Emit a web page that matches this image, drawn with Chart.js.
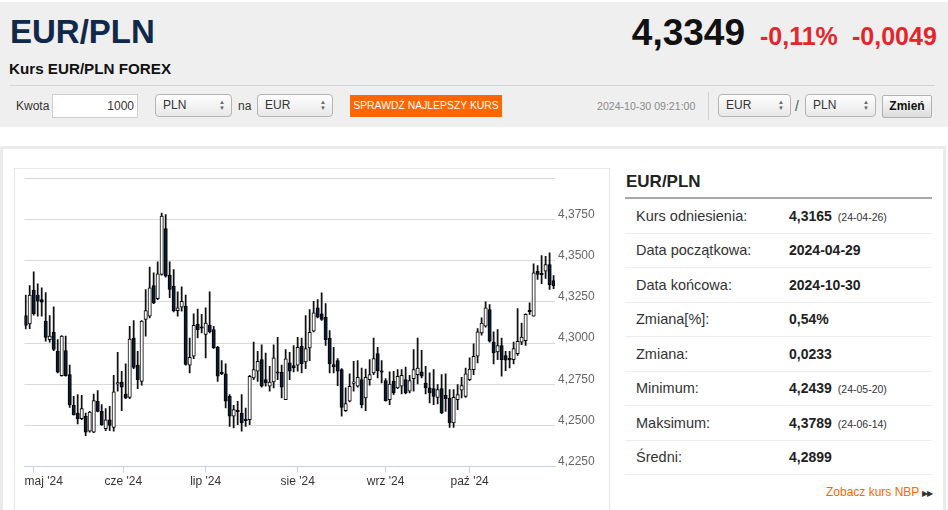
<!DOCTYPE html>
<html lang="pl">
<head>
<meta charset="utf-8">
<script src="https://cdn.jsdelivr.net/npm/chart.js@4.4.1/dist/chart.umd.min.js"></script>
<style>
  html,body{margin:0;padding:0;background:#fff;}
  body{width:948px;height:510px;position:relative;overflow:hidden;font-family:"Liberation Sans",Arial,sans-serif;color:#333;}
  .a{position:absolute;white-space:nowrap;}
  .hdr{position:absolute;left:0;top:2px;width:948px;height:125px;background:#efefef;}
  .sel{position:absolute;height:21px;border:1px solid #b4b4b4;border-radius:4px;background:linear-gradient(#fefefe,#e8e8e8);font-size:12px;line-height:21px;box-sizing:content-box;}
  .sel span.t{position:absolute;left:7px;top:0;}
  .sel span.ar{position:absolute;right:6px;top:4px;font-size:6px;line-height:6px;color:#666;}
  .rowl{position:absolute;left:636px;font-size:14.5px;line-height:20px;color:#333;white-space:nowrap;}
  .rowv{position:absolute;left:789px;font-size:14px;font-weight:bold;line-height:20px;color:#222;white-space:nowrap;}
  .rowv small{font-size:10.5px;font-weight:normal;margin-left:6px;color:#333;}
  .sep{position:absolute;left:625px;width:307px;height:1px;background:#ececec;}
</style>
</head>
<body>
<div class="hdr"></div>
<div class="a" style="left:10px;top:12.6px;font-size:33px;font-weight:bold;line-height:38px;color:#10284a;">EUR/PLN</div>
<div class="a" style="left:600px;top:13px;width:145px;text-align:right;font-size:37px;font-weight:bold;line-height:40px;color:#111;">4,3349</div>
<div class="a" style="left:760px;top:22px;font-size:25px;font-weight:bold;line-height:28px;color:#e3262b;">-0,11%</div>
<div class="a" style="left:852px;top:22px;font-size:25px;font-weight:bold;line-height:28px;color:#e3262b;">-0,0049</div>
<div class="a" style="left:9px;top:60px;font-size:15.2px;font-weight:bold;line-height:18px;color:#111;">Kurs EUR/PLN FOREX</div>
<div class="a" style="left:10px;top:85px;width:925px;height:1px;background:#d3d3d3;"></div>

<div class="a" style="left:16px;top:98px;font-size:12px;line-height:16px;color:#333;">Kwota</div>
<div class="a" style="left:52px;top:94px;width:84px;height:22px;border:1px solid #cfcfcf;background:#fff;font-size:12px;line-height:22px;text-align:right;"><span style="padding-right:3px;">1000</span></div>
<div class="sel" style="left:155px;top:94px;width:75px;"><span class="t">PLN</span><span class="ar">▲<br>▼</span></div>
<div class="a" style="left:238px;top:98px;font-size:12px;line-height:16px;color:#333;">na</div>
<div class="sel" style="left:257px;top:94px;width:74px;"><span class="t">EUR</span><span class="ar">▲<br>▼</span></div>
<div class="a" style="left:350px;top:95px;width:152px;height:22px;background:#ff6600;color:#fff;font-size:10.4px;line-height:22px;text-align:center;">SPRAWDŹ NAJLEPSZY KURS</div>
<div class="a" style="left:597px;top:99px;font-size:10.6px;line-height:14px;color:#8a8a8a;">2024-10-30 09:21:00</div>
<div class="a" style="left:708px;top:92px;width:1px;height:28px;background:#cfcfcf;"></div>
<div class="sel" style="left:718px;top:94px;width:71px;"><span class="t">EUR</span><span class="ar">▲<br>▼</span></div>
<div class="a" style="left:795px;top:97px;font-size:14px;line-height:18px;color:#555;">/</div>
<div class="sel" style="left:805px;top:94px;width:69px;"><span class="t">PLN</span><span class="ar">▲<br>▼</span></div>
<div class="a" style="left:882px;top:95px;width:48px;height:21px;border:1px solid #b0b0b0;border-radius:2px;background:linear-gradient(#fdfdfd,#dcdcdc);font-size:12px;font-weight:bold;line-height:21px;text-align:center;color:#111;">Zmień</div>

<div class="a" style="left:0px;top:146px;width:940px;height:380px;border:3px solid #ebebeb;border-bottom:none;"></div>
<div class="a" style="left:14px;top:168px;width:594px;height:360px;border:1px solid #e8e8e8;"></div>

<div class="a" style="left:626px;top:172px;font-size:17px;font-weight:bold;line-height:20px;color:#222;">EUR/PLN</div>
<div class="a" style="left:625px;top:197px;width:307px;height:2px;background:#a8a8a8;"></div>
<div id="panel"></div>
<div class="a" style="left:826px;top:484px;font-size:12px;line-height:16px;color:#ff6600;">Zobacz kurs NBP <span style="color:#333;font-size:8px;letter-spacing:-1px;">▶▶</span></div>

<div class="a" style="left:0px;top:160px;width:610px;height:340px;"><canvas id="c" width="610" height="340"></canvas></div>

<script>
// ---- Right panel data ----
const panelLabels = ["Kurs odniesienia:", "Data początkowa:", "Data końcowa:", "Zmiana[%]:", "Zmiana:", "Minimum:", "Maksimum:", "Średni:"];
const panelValues = ["4,3165", "2024-04-29", "2024-10-30", "0,54%", "0,0233", "4,2439", "4,3789", "4,2899"];
const panelDates  = ["(24-04-26)", "", "", "", "", "(24-05-20)", "(24-06-14)", ""];

// ---- Chart data (trading days 2024-04-29 .. 2024-10-30) ----
const dates = ["04-29","04-30",
"05-01","05-02","05-03","05-06","05-07","05-08","05-09","05-10","05-13","05-14","05-15","05-16","05-17","05-20","05-21","05-22","05-23","05-24","05-27","05-28","05-29","05-30","05-31",
"06-03","06-04","06-05","06-06","06-07","06-10","06-11","06-12","06-13","06-14","06-17","06-18","06-19","06-20","06-21","06-24","06-25","06-26","06-27","06-28",
"07-01","07-02","07-03","07-04","07-05","07-08","07-09","07-10","07-11","07-12","07-15","07-16","07-17","07-18","07-19","07-22","07-23","07-24","07-25","07-26","07-29","07-30","07-31",
"08-01","08-02","08-05","08-06","08-07","08-08","08-09","08-12","08-13","08-14","08-15","08-16","08-19","08-20","08-21","08-22","08-23","08-26","08-27","08-28","08-29","08-30",
"09-02","09-03","09-04","09-05","09-06","09-09","09-10","09-11","09-12","09-13","09-16","09-17","09-18","09-19","09-20","09-23","09-24","09-25","09-26","09-27","09-30",
"10-01","10-02","10-03","10-04","10-07","10-08","10-09","10-10","10-11","10-14","10-15","10-16","10-17","10-18","10-21","10-22","10-23","10-24","10-25","10-28","10-29","10-30"];

const openV = [4.3167,4.3116,4.3320,4.3291,4.3264,4.3133,4.3021,4.3066,4.2950,4.2803,
4.2954,4.2809,4.2623,4.2576,4.2541,4.2556,4.2465,4.2460,4.2647,4.2586,
4.2481,4.2535,4.2489,4.2752,4.2764,4.2691,4.2671,4.3031,4.2866,4.2768,
4.3143,4.3163,4.3349,4.3270,4.3416,4.3695,4.3412,4.3345,4.3197,4.3218,
4.3224,4.2866,4.2920,4.3116,4.3094,4.3052,4.3108,4.3082,4.2975,4.2823,
4.2813,4.2677,4.2556,4.2588,4.2576,4.2535,4.2535,4.2789,4.2829,4.2900,
4.2778,4.2738,4.2764,4.2821,4.2823,4.2657,4.2880,4.2864,4.2866,4.2981,
4.2886,4.2971,4.3072,4.3214,4.3178,4.3157,4.3031,4.2870,4.2894,4.2839,
4.2590,4.2647,4.2756,4.2738,4.2778,4.2667,4.2778,4.2819,4.2936,4.2827,
4.2772,4.2657,4.2768,4.2728,4.2738,4.2778,4.2708,4.2784,4.2809,4.2825,
4.2758,4.2728,4.2724,4.2671,4.2724,4.2683,4.2667,4.2515,4.2657,4.2714,
4.2677,4.2778,4.2839,4.2920,4.3062,4.3102,4.3204,4.3006,4.2946,4.2985,
4.2924,4.2902,4.2900,4.2936,4.3006,4.3014,4.3195,4.3163,4.3436,4.3418,
4.3436,4.3477,4.3380];
const highV = [4.3291,4.3349,4.3432,4.3359,4.3335,4.3307,4.3167,4.3220,4.3021,4.3046,
4.3042,4.2866,4.2677,4.2687,4.2683,4.2576,4.2586,4.2691,4.2712,4.2627,
4.2602,4.2617,4.2805,4.2944,4.2829,4.2874,4.3102,4.3137,4.2950,4.3137,
4.3325,4.3461,4.3426,4.3493,4.3789,4.3780,4.3493,4.3446,4.3311,4.3341,
4.3291,4.3031,4.3178,4.3207,4.3174,4.3214,4.3311,4.3102,4.2981,4.2894,
4.2874,4.2687,4.2623,4.2647,4.2687,4.2606,4.2805,4.3006,4.2950,4.2990,
4.2940,4.2859,4.2990,4.3035,4.2866,4.2961,4.2944,4.2985,4.3035,4.3031,
4.3167,4.3204,4.3254,4.3264,4.3305,4.3240,4.3076,4.2975,4.2906,4.2845,
4.2728,4.2813,4.2890,4.2894,4.2849,4.2843,4.2900,4.3031,4.2975,4.2894,
4.2784,4.2825,4.2829,4.2839,4.2839,4.2855,4.2805,4.2961,4.3031,4.2956,
4.2859,4.2819,4.2839,4.2748,4.2809,4.2813,4.2718,4.2718,4.2748,4.2793,
4.2849,4.2910,4.2995,4.3088,4.3153,4.3250,4.3234,4.3068,4.3082,4.3031,
4.2950,4.2950,4.3006,4.3210,4.3122,4.3178,4.3244,4.3481,4.3471,4.3531,
4.3527,4.3548,4.3410];
const lowV = [4.3086,4.3088,4.3169,4.3163,4.3163,4.3011,4.3006,4.2954,4.2819,4.2799,
4.2799,4.2610,4.2562,4.2509,4.2535,4.2439,4.2460,4.2456,4.2582,4.2501,
4.2469,4.2469,4.2465,4.2708,4.2590,4.2663,4.2663,4.2845,4.2724,4.2744,
4.3042,4.3153,4.3240,4.3264,4.3412,4.3400,4.3275,4.3189,4.3163,4.3193,
4.2866,4.2819,4.2906,4.3031,4.3062,4.2910,4.3062,4.2967,4.2768,4.2809,
4.2606,4.2495,4.2485,4.2505,4.2465,4.2495,4.2505,4.2778,4.2768,4.2732,
4.2738,4.2708,4.2728,4.2778,4.2667,4.2657,4.2778,4.2825,4.2829,4.2819,
4.2845,4.2894,4.3068,4.3153,4.3137,4.2986,4.2819,4.2819,4.2742,4.2556,
4.2586,4.2643,4.2708,4.2732,4.2606,4.2590,4.2744,4.2809,4.2789,4.2758,
4.2647,4.2627,4.2687,4.2724,4.2691,4.2691,4.2697,4.2708,4.2752,4.2789,
4.2691,4.2637,4.2627,4.2631,4.2572,4.2586,4.2489,4.2489,4.2596,4.2667,
4.2671,4.2772,4.2809,4.2880,4.3048,4.3096,4.3006,4.2874,4.2900,4.2799,
4.2833,4.2849,4.2874,4.2926,4.2990,4.2986,4.3174,4.3163,4.3386,4.3361,
4.3392,4.3325,4.3331];
const closeV = [4.3108,4.3291,4.3178,4.3254,4.3248,4.3035,4.3042,4.2961,4.2823,4.3042,
4.2803,4.2627,4.2566,4.2541,4.2602,4.2460,4.2582,4.2651,4.2586,4.2505,
4.2535,4.2501,4.2704,4.2754,4.2732,4.2667,4.3025,4.2853,4.2778,4.3133,
4.3197,4.3335,4.3244,4.3420,4.3770,4.3406,4.3325,4.3197,4.3214,4.3254,
4.2870,4.2914,4.3108,4.3082,4.3090,4.3122,4.3068,4.2971,4.2799,4.2815,
4.2647,4.2556,4.2596,4.2584,4.2515,4.2529,4.2799,4.2839,4.2890,4.2738,
4.2758,4.2764,4.2910,4.2817,4.2732,4.2904,4.2829,4.2849,4.2975,4.2874,
4.2967,4.3066,4.3183,4.3157,4.3143,4.3021,4.2874,4.2855,4.2829,4.2610,
4.2633,4.2738,4.2760,4.2793,4.2627,4.2793,4.2809,4.2906,4.2833,4.2823,
4.2651,4.2752,4.2697,4.2799,4.2805,4.2697,4.2772,4.2839,4.2849,4.2799,
4.2728,4.2697,4.2677,4.2718,4.2576,4.2663,4.2515,4.2671,4.2687,4.2742,
4.2813,4.2843,4.2920,4.3068,4.3122,4.3214,4.3011,4.2940,4.2985,4.2900,
4.2896,4.2898,4.2967,4.3011,4.3037,4.3174,4.3191,4.3426,4.3416,4.3414,
4.3477,4.3355,4.3349];

// month ticks (positions in trading-day index) and labels
const xTickPos    = [2, 24.4, 45, 68, 90, 111];
const xTickLabels = ["maj '24", "cze '24", "lip '24", "sie '24", "wrz '24", "paź '24"];
const yTickValues = [4.2250, 4.2500, 4.2750, 4.3000, 4.3250, 4.3500, 4.3750, 4.4000];
const yTickLabels = ["4,2250", "4,2500", "4,2750", "4,3000", "4,3250", "4,3500", "4,3750", ""];

// ---- build right panel ----
(function(){
  const p = document.getElementById('panel');
  let html = '';
  for (let k = 0; k < panelLabels.length; k++) {
    const cy = 216 + 34.43 * k;
    html += '<div class="rowl" style="top:' + (cy - 10) + 'px">' + panelLabels[k] + '</div>';
    html += '<div class="rowv" style="top:' + (cy - 10) + 'px">' + panelValues[k] +
            (panelDates[k] ? '<small>' + panelDates[k] + '</small>' : '') + '</div>';
    html += '<div class="sep" style="top:' + Math.round(cy + 17) + 'px"></div>';
  }
  p.innerHTML = html;
})();

// ---- chart ----
const wickData = dates.map((d, i) => ({x: i, y: [lowV[i], highV[i]]}));
const bodyData = dates.map((d, i) => ({x: i, y: [openV[i], closeV[i]]}));
const bodyFill = dates.map((d, i) => closeV[i] >= openV[i] ? '#ffffff' : '#0c1b31');

Chart.defaults.font.family = '"Liberation Sans", Arial, sans-serif';

new Chart(document.getElementById('c'), {
  type: 'bar',
  data: {
    datasets: [
      {
        label: 'body', data: bodyData, order: 0, grouped: false,
        backgroundColor: bodyFill, borderColor: '#000', borderWidth: 1,
        borderSkipped: false, barThickness: 3.4, minBarLength: 1.5
      },
      {
        label: 'wick', data: wickData, order: 1, grouped: false,
        backgroundColor: '#111', borderWidth: 0, barThickness: 1.1
      }
    ]
  },
  options: {
    responsive: false,
    animation: false,
    events: [],
    layout: { padding: { left: 24.5, top: 18.3, right: 0, bottom: 0 } },
    plugins: { legend: { display: false }, tooltip: { enabled: false } },
    scales: {
      x: {
        type: 'linear', min: -0.3, max: 132.35, offset: false,
        afterBuildTicks: s => { s.ticks = xTickPos.map(v => ({ value: v })); },
        afterFit: s => { s.height = 33.3; },
        ticks: {
          autoSkip: false, maxRotation: 0, padding: 2, color: '#333',
          font: { size: 12 },
          // first label is pushed right (kept inside the plot), as in the original
          callback: (v, idx) => (idx === 0 ? '\u00a0\u00a0\u00a0\u00a0\u00a0\u00a0' : '') + xTickLabels[idx]
        },
        grid: { drawOnChartArea: false, drawTicks: true, tickLength: 6, color: '#c3d2e6', offset: false },
        border: { display: true, color: '#c3d2e6', width: 1 }
      },
      y: {
        position: 'right', min: 4.225, max: 4.4,
        afterBuildTicks: s => { s.ticks = yTickValues.map(v => ({ value: v })); },
        afterFit: s => { s.width = 55; },
        ticks: {
          padding: 3, crossAlign: 'near', labelOffset: -5, color: '#666',
          font: { size: 12 },
          callback: (v, idx) => yTickLabels[idx]
        },
        grid: {
          drawTicks: false,
          color: ctx => (ctx.tick && Math.abs(ctx.tick.value - 4.225) < 1e-6) ? 'rgba(0,0,0,0)' : '#d9d9d9'
        },
        border: { display: false }
      }
    }
  }
});
</script>
</body>
</html>
